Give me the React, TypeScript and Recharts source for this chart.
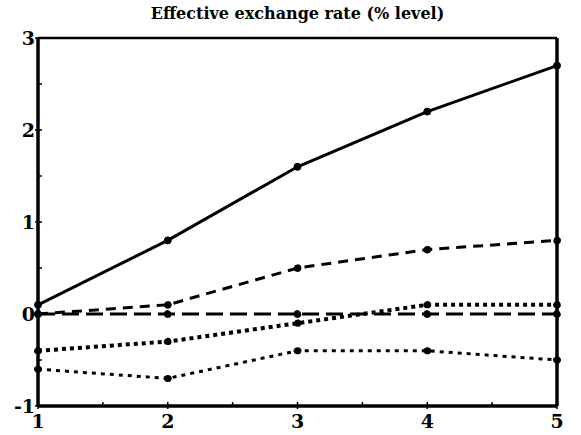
import React from "react";
import { LineChart, Line, XAxis, YAxis, ReferenceLine } from "recharts";

const periods = [1, 2, 3, 4, 5];
const seriesSolid = [0.1, 0.8, 1.6, 2.2, 2.7];
const seriesDashed = [0.0, 0.1, 0.5, 0.7, 0.8];
const seriesLongDash = [0.0, 0.0, 0.0, 0.0, 0.0];
const seriesThickDot = [-0.4, -0.3, -0.1, 0.1, 0.1];
const seriesFineDot = [-0.6, -0.7, -0.4, -0.4, -0.5];
const xTicks = [1, 1.5, 2, 2.5, 3, 3.5, 4, 4.5, 5];
const yTicks = [-1, -0.5, 0, 0.5, 1, 1.5, 2, 2.5, 3];
const title = "Effective exchange rate (% level)";

const data = periods.map((p, i) => ({
  p,
  a: seriesSolid[i],
  b: seriesDashed[i],
  c: seriesLongDash[i],
  d: seriesThickDot[i],
  e: seriesFineDot[i],
}));

const FONT = "'DejaVu Serif', serif";

const YTick = (props: any) => {
  const { x, y, payload } = props;
  const v = payload.value;
  const isInt = Number.isInteger(v);
  return (
    <g>
      <line x1={isInt ? x - 3 : x} x2={x + 4} y1={y} y2={y} stroke="#000" strokeWidth={1.5} />
      {isInt && (
        <text x={x - 3} y={y + 7} textAnchor="end" style={{ fontFamily: FONT, fontWeight: 700, fontSize: 19 }} fill="#000">
          {v}
        </text>
      )}
    </g>
  );
};

const XTick = (props: any) => {
  const { x, y, payload } = props;
  const v = payload.value;
  const isInt = Number.isInteger(v);
  return (
    <g>
      <line x1={x} x2={x} y1={y - 4} y2={isInt ? y + 3 : y} stroke="#000" strokeWidth={1.5} />
      {isInt && (
        <text x={x} y={y + 22} textAnchor="middle" style={{ fontFamily: FONT, fontWeight: 700, fontSize: 19 }} fill="#000">
          {v}
        </text>
      )}
    </g>
  );
};

const dot = { r: 3.5, fill: "#000", stroke: "#000", strokeWidth: 1 };

export default function App() {
  return (
    <div style={{ position: "absolute", left: 0, top: 0, width: 581, height: 435, background: "#fff" }}>
      <div
        style={{
          position: "absolute",
          left: 38,
          width: 519,
          top: 4,
          textAlign: "center",
          fontFamily: FONT,
          fontWeight: 700,
          fontSize: 16,
          color: "#000",
        }}
      >
        {title}
      </div>
      <LineChart width={581} height={435} data={data} margin={{ top: 38, right: 24, bottom: 0, left: 0 }}>
        <XAxis
          dataKey="p"
          type="number"
          domain={[1, 5]}
          ticks={xTicks}
          interval={0}
          height={29}
          tickSize={0}
          tickMargin={0}
          tickLine={false}
          axisLine={{ stroke: "#000", strokeWidth: 3.5 }}
          tick={<XTick />}
        />
        <YAxis
          type="number"
          domain={[-1, 3]}
          ticks={yTicks}
          interval={0}
          width={38}
          tickSize={0}
          tickMargin={0}
          tickLine={false}
          axisLine={{ stroke: "#000", strokeWidth: 3.5 }}
          tick={<YTick />}
        />
        <ReferenceLine x={5} stroke="#000" strokeWidth={3.5} />
        <ReferenceLine y={3} stroke="#000" strokeWidth={2.5} />
        <Line dataKey="a" stroke="#000" strokeWidth={3} dot={dot} isAnimationActive={false} />
        <Line dataKey="b" stroke="#000" strokeWidth={3} strokeDasharray="10 7" dot={dot} isAnimationActive={false} />
        <Line dataKey="c" stroke="#000" strokeWidth={3} strokeDasharray="17 7" dot={dot} isAnimationActive={false} />
        <Line dataKey="d" stroke="#000" strokeWidth={4} strokeDasharray="4 4" dot={dot} isAnimationActive={false} />
        <Line dataKey="e" stroke="#000" strokeWidth={3} strokeDasharray="4 5" dot={dot} isAnimationActive={false} />
      </LineChart>
    </div>
  );
}
